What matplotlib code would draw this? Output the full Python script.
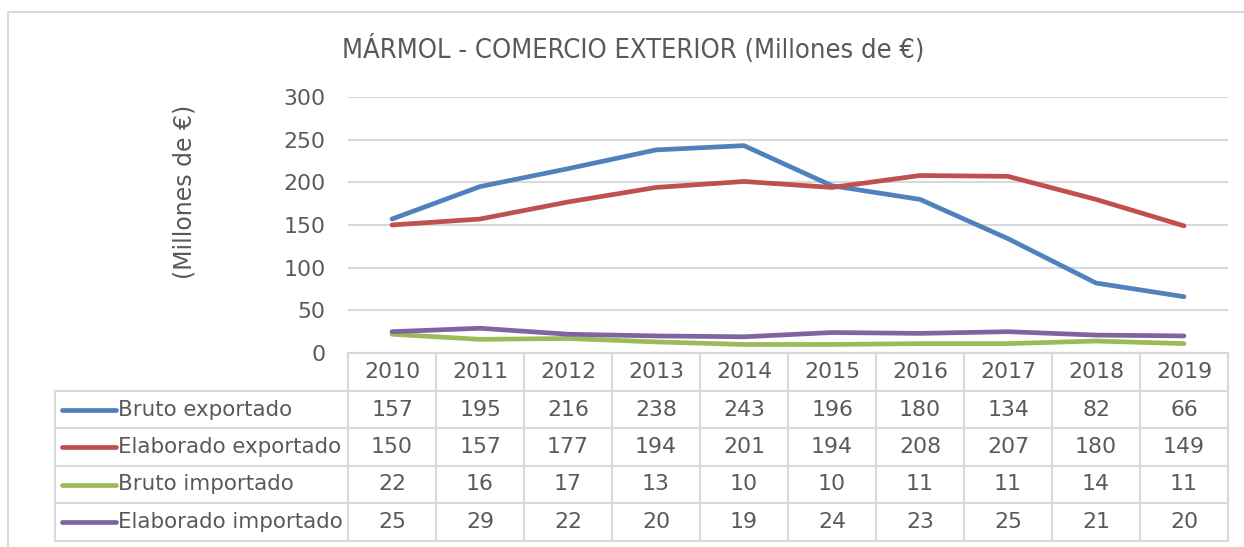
import matplotlib.pyplot as plt
from matplotlib.lines import Line2D
from matplotlib.patches import Rectangle
from matplotlib.transforms import blended_transform_factory

# Datos de comercio exterior del mármol (millones de euros)
years = ["2010", "2011", "2012", "2013", "2014", "2015", "2016", "2017", "2018", "2019"]
series_names = ["Bruto exportado", "Elaborado exportado", "Bruto importado", "Elaborado importado"]
bruto_exp = [157, 195, 216, 238, 243, 196, 180, 134, 82, 66]
elab_exp = [150, 157, 177, 194, 201, 194, 208, 207, 180, 149]
bruto_imp = [22, 16, 17, 13, 10, 10, 11, 11, 14, 11]
elab_imp = [25, 29, 22, 20, 19, 24, 23, 25, 21, 20]
colors = ["#4f81bd", "#c0504d", "#9bbb59", "#8064a2"]

W, H = 1244, 547
txt = "#595959"
grid = "#d9d9d9"
fs = 15.8

fig = plt.figure(figsize=(W / 100, H / 100), dpi=100)
plt.rcParams["font.family"] = "DejaVu Sans"

# área del gráfico en píxeles
x0, x1 = 348, 1228
y_top, y_bot = 97, 353
ax = fig.add_axes([x0 / W, 1 - y_bot / H, (x1 - x0) / W, (y_bot - y_top) / H])

all_series = [bruto_exp, elab_exp, bruto_imp, elab_imp]
xs = list(range(len(years)))
for vals, c in zip(all_series, colors):
    ax.plot(xs, vals, color=c, lw=3.4, solid_capstyle="round", zorder=3)

ax.set_xlim(-0.5, len(years) - 0.5)
ax.set_ylim(0, 300)
ax.set_yticks(range(0, 301, 50))
ax.set_xticks([])
ax.yaxis.grid(True, color=grid, lw=1.5)
ax.tick_params(axis="y", length=0, labelsize=fs, labelcolor=txt, pad=16)
for s in ["top", "right", "left"]:
    ax.spines[s].set_visible(False)
ax.spines["bottom"].set_color(grid)
ax.spines["bottom"].set_linewidth(1.5)

ax.set_ylabel("(Millones de €)", fontsize=17, color=txt)
ax.yaxis.set_label_coords(-0.172, 0.63)

fig.text(633 / W, 1 - 50 / H, "MÁRMOL - COMERCIO EXTERIOR (Millones de €)",
         fontsize=19.5, color=txt, ha="center", va="center", fontstretch="condensed",
         family="DejaVu Sans")

# marco exterior
fig.patches.append(Rectangle((8 / W, -0.05), 1.1, 1 - 12 / H + 0.05, transform=fig.transFigure,
                             fill=False, ec=grid, lw=1.5))

# tabla de datos bajo el gráfico
rows = [353, 391, 428, 466, 503, 541]
tx = blended_transform_factory(ax.transData, fig.transFigure)
legend_left = 55

def fy(py):
    return 1 - py / H

def fx(px):
    return px / W

for i, r in enumerate(rows):
    left = x0 if i == 0 else legend_left
    fig.add_artist(Line2D([fx(left), fx(x1)], [fy(r), fy(r)], color=grid, lw=1.5))
for k in range(len(years) + 1):
    xb = k - 0.5
    fig.add_artist(Line2D([xb, xb], [fy(rows[0]), fy(rows[-1])], color=grid, lw=1.5, transform=tx))
fig.add_artist(Line2D([fx(legend_left), fx(legend_left)], [fy(rows[1]), fy(rows[-1])], color=grid, lw=1.5))

for j, yr in enumerate(years):
    fig.text(j, fy((rows[0] + rows[1]) / 2), yr, transform=tx, ha="center", va="center",
             fontsize=fs, color=txt)

for i, (name, vals, c) in enumerate(zip(series_names, all_series, colors)):
    yc = fy((rows[i + 1] + rows[i + 2]) / 2)
    fig.add_artist(Line2D([fx(62), fx(116)], [yc, yc], color=c, lw=3.4, solid_capstyle="round"))
    fig.text(fx(118), yc, name, ha="left", va="center", fontsize=15.4, color=txt)
    for j, v in enumerate(vals):
        fig.text(j, yc, str(v), transform=tx, ha="center", va="center", fontsize=fs, color=txt)

fig.savefig("out.png", dpi=100)
